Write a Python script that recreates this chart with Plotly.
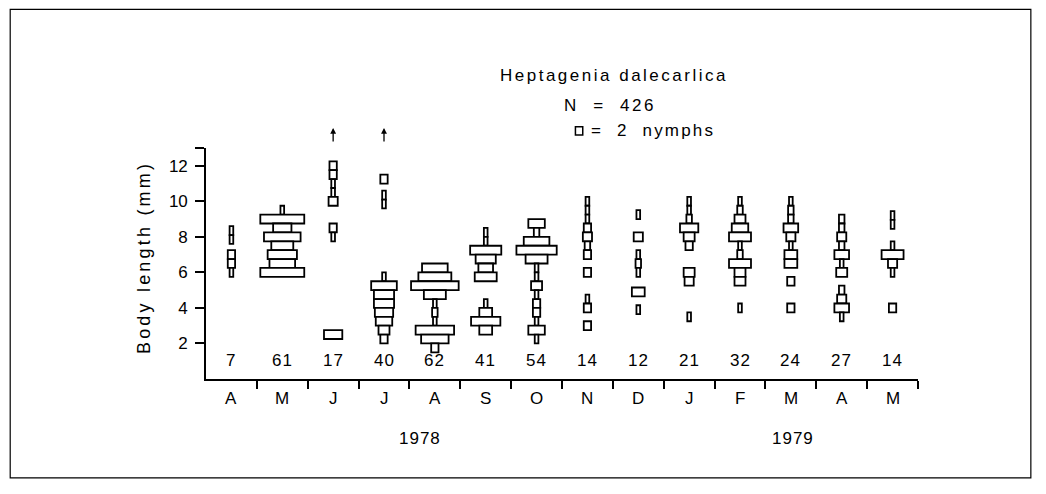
import plotly.graph_objects as go

# ---------------- data ----------------
months = ["A", "M", "J", "J", "A", "S", "O", "N", "D", "J", "F", "M", "A", "M"]
n_totals = [7, 61, 17, 40, 62, 41, 54, 14, 12, 21, 32, 24, 27, 14]
years = ["1978", "1979"]
y_ticks = [2, 4, 6, 8, 10, 12]

# body-length size classes (mm) and number of nymphs per class, per sampling month
len_apr78 = [8.35, 7.85, 7.0, 6.5, 6.0]
cnt_apr78 = [1, 1, 2, 2, 1]
len_may78 = [9.5, 9.0, 8.5, 8.0, 7.5, 7.0, 6.5, 6.0]
cnt_may78 = [1, 12, 5, 10, 6, 8, 7, 12]
len_jun78 = [12.0, 11.5, 11.0, 10.5, 10.0, 8.5, 8.0, 2.5]
cnt_jun78 = [2, 2, 1, 1, 2.5, 2, 1, 5]
len_jul78 = [11.25, 10.35, 9.85, 5.75, 5.25, 4.75, 4.25, 3.75, 3.25, 2.75, 2.25]
cnt_jul78 = [2, 1, 1, 1, 7, 5.5, 5.5, 5, 4.5, 3, 2]
len_aug78 = [6.25, 5.75, 5.25, 4.75, 4.25, 3.75, 3.25, 2.75, 2.25, 1.75]
cnt_aug78 = [7, 9, 13, 6, 1, 1.5, 1, 10.5, 7.5, 2]
len_sep78 = [8.25, 7.75, 7.25, 6.75, 6.25, 5.75, 4.25, 3.75, 3.25, 2.75]
cnt_sep78 = [1, 1, 8.5, 5.5, 4, 6, 1, 3.5, 8, 3.5]
len_oct78 = [8.75, 8.25, 7.75, 7.25, 6.75, 6.25, 5.75, 5.25, 4.75, 4.25, 3.75, 3.25, 2.75, 2.25]
cnt_oct78 = [4.5, 1.5, 7, 11, 6, 1, 1, 3, 1, 2, 2, 1, 4.5, 1]
len_nov78 = [10.0, 9.5, 9.0, 8.5, 8.0, 7.5, 7.0, 6.0, 4.5, 4.0, 3.0]
cnt_nov78 = [1, 1, 1, 2, 2.5, 1.5, 2, 2, 1, 2, 2]
len_dec78 = [9.25, 8.0, 7.0, 6.5, 6.0, 4.9, 3.9]
cnt_dec78 = [1, 2.5, 1, 1.5, 1, 3.5, 1]
len_jan79 = [10.0, 9.5, 9.0, 8.5, 8.0, 7.5, 6.0, 5.5, 3.5]
cnt_jan79 = [1, 1, 1.5, 5, 3, 2, 3, 2.5, 1]
len_feb79 = [10.0, 9.5, 9.0, 8.5, 8.0, 7.5, 7.0, 6.5, 6.0, 5.5, 4.0]
cnt_feb79 = [1, 1.5, 3, 4.5, 6, 1, 1.5, 6, 3, 3, 1]
len_mar79 = [10.0, 9.5, 9.0, 8.5, 8.0, 7.5, 7.0, 6.5, 5.5, 4.0]
cnt_mar79 = [1, 1.5, 1.5, 4, 2.5, 1, 3.5, 3.5, 2, 2]
len_apr79 = [9.0, 8.5, 8.0, 7.5, 7.0, 6.5, 6.0, 5.0, 4.5, 4.0, 3.5]
cnt_apr79 = [1.5, 1.5, 2.5, 1.5, 4, 1, 3, 1.5, 2.5, 4, 1]
len_may79 = [9.2, 8.7, 7.5, 7.0, 6.5, 6.0, 4.0]
cnt_may79 = [1, 1, 1, 6, 2.5, 1, 2]

# months whose sample contained nymphs beyond the top of the scale
offscale_months = [2, 3]

lengths = [len_apr78, len_may78, len_jun78, len_jul78, len_aug78, len_sep78, len_oct78,
           len_nov78, len_dec78, len_jan79, len_feb79, len_mar79, len_apr79, len_may79]
counts = [cnt_apr78, cnt_may78, cnt_jun78, cnt_jul78, cnt_aug78, cnt_sep78, cnt_oct78,
          cnt_nov78, cnt_dec78, cnt_jan79, cnt_feb79, cnt_mar79, cnt_apr79, cnt_may79]

# ---------------- styling ----------------
FONT = "Liberation Sans, Arial, Helvetica, sans-serif"
NYMPH_W = 0.072      # width of one nymph in month units
CLASS_H = 0.5        # size-class height (mm)


def spaced(t, px=2.2):
    return '<span style="letter-spacing:%.1fpx">%s</span>' % (px, t)


fig = go.Figure()
for i, (ls, cs) in enumerate(zip(lengths, counts)):
    w = [c * NYMPH_W for c in cs]
    fig.add_trace(go.Bar(
        orientation="h", y=ls, x=w, base=[i - v / 2 for v in w], width=CLASS_H,
        marker=dict(color="white", line=dict(color="black", width=1.8)),
        showlegend=False, hoverinfo="skip"))

f17 = dict(size=17, color="black", family=FONT)
ann = []
for i, (m, n) in enumerate(zip(months, n_totals)):
    ann.append(dict(x=i, y=0, xref="x", yref="paper", text=m, showarrow=False,
                    yanchor="top", yshift=-8, font=f17))
    ann.append(dict(x=i, y=0, xref="x", yref="paper", text=spaced(str(n), 1), showarrow=False,
                    yanchor="bottom", yshift=7, font=f17))
for i in offscale_months:
    ann.append(dict(x=i, y=1, xref="x", yref="paper", text="", showarrow=True,
                    arrowhead=2, arrowsize=0.9, arrowwidth=1.3, arrowcolor="black",
                    ax=0, ay=15, yshift=20))
for x, t in zip([3.7, 11.05], years):
    ann.append(dict(x=x, y=0, xref="x", yref="paper", text=spaced(t, 1), showarrow=False,
                    yanchor="top", yshift=-48, font=f17))
ann.append(dict(x=-0.088, y=0.525, xref="paper", yref="paper",
                text=spaced("Body length (mm)", 3.2),
                textangle=-90, showarrow=False, xanchor="center", yanchor="middle",
                font=dict(size=18, color="black", family=FONT)))
ann.append(dict(x=0.573, y=1.316, xref="paper", yref="paper",
                text=spaced("Heptagenia dalecarlica", 2.5),
                showarrow=False, xanchor="center", yanchor="middle", font=f17))
ann.append(dict(x=0.567, y=1.182, xref="paper", yref="paper", text=spaced("N  =  426", 2.5),
                showarrow=False, xanchor="center", yanchor="middle", font=f17))
ann.append(dict(x=0.538, y=1.074, xref="paper", yref="paper", text=spaced("=  2  nymphs", 2.2),
                xanchor="left", yanchor="middle", showarrow=False, font=f17))

# legend square: width of two nymphs, drawn in paper units of the x axis
sq_w = 2 * NYMPH_W / 14.0
shapes = [
    dict(type="rect", xref="paper", yref="paper", x0=0.524 - sq_w / 2, x1=0.524 + sq_w / 2,
         y0=1.056, y1=1.092, line=dict(color="black", width=1.5), fillcolor="white"),
    dict(type="rect", xref="paper", yref="paper", x0=-0.275, x1=1.1585, y0=-0.428, y1=1.60,
         line=dict(color="black", width=1.2), fillcolor="rgba(0,0,0,0)"),
]

# the page body has an 8px margin, so the figure is shrunk/offset to keep the plot in place
fig.update_layout(
    width=1030, height=478,
    margin=dict(l=198, r=120, t=140, b=107),
    paper_bgcolor="white", plot_bgcolor="white",
    barmode="overlay",
    annotations=ann, shapes=shapes,
    xaxis=dict(range=[-0.5, 13.5], tickvals=[k + 0.5 for k in range(14)],
               ticktext=[""] * 14, ticks="outside", ticklen=8, tickwidth=1.5, tickcolor="black",
               showline=True, linecolor="black", linewidth=1.6, showgrid=False, zeroline=False,
               fixedrange=True),
    yaxis=dict(range=[0, 13], tickvals=y_ticks + [13], ticktext=[str(t) for t in y_ticks] + [""],
               ticks="outside", ticklen=9, tickwidth=1.5, tickcolor="black", ticklabelstandoff=4,
               showline=True, linecolor="black", linewidth=1.6, showgrid=False, zeroline=False,
               tickfont=dict(size=17, color="black", family=FONT), fixedrange=True),
    font=dict(family=FONT, color="black"),
)

fig.write_html("out.html")
